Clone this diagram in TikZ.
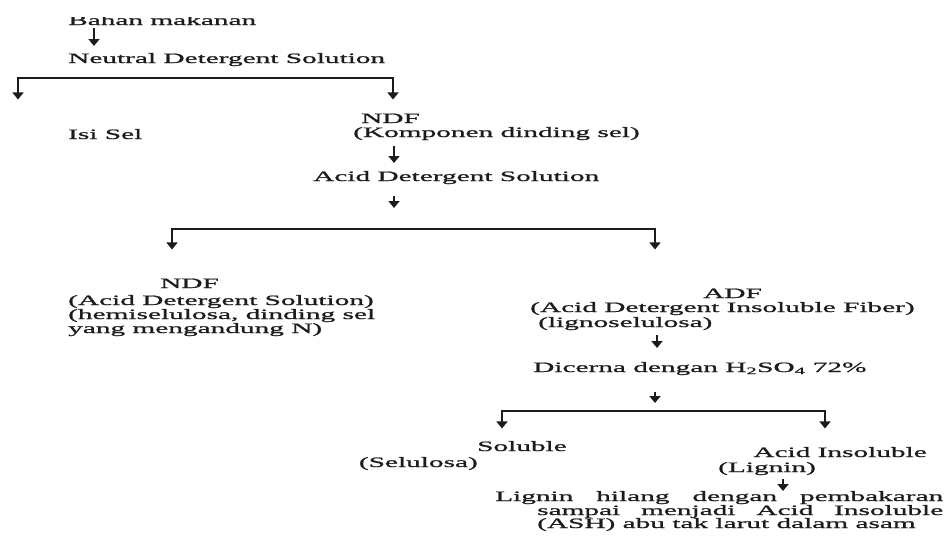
\documentclass[tikz,border=0pt]{standalone}
\usepackage{fontspec}
\setmainfont{Liberation Serif}[FakeStretch=2.05,FakeBold=1.2]
\usepackage{tikz}
\usetikzlibrary{arrows.meta,calc}
\definecolor{ink}{RGB}{28,28,28}
\tikzset{
		txt/.style = 	{inner sep=0pt, anchor=base west, text=ink, font=\fontsize{14.3}{14.5}\selectfont},
		txtR/.style = 	{txt, anchor=base east},
		arr/.style = 	{draw=ink, line width=1.7pt, -{Triangle[width=11pt,length=7pt]}},
		bar/.style = 	{draw=ink, line width=1.1pt}
}

\begin{document}
\begin{tikzpicture}[x=1pt,y=-1pt]
  \useasboundingbox (0,0) rectangle (950,538);
  \clip (0,17.5) rectangle (950,538);

  % Text lines
  \node [txt] (bahan) at (68,25) {Bahan makanan};
  \node [txt] (nds)   at (68,63) {Neutral Detergent Solution};
  \node [txt] (isi)   at (68,139) {Isi Sel};
  \node [txt] (ndfa)  at (361,123) {NDF};
  \node [txt] (ndfb)  at (353,137) {(Komponen dinding sel)};
  \node [txt] (ads)   at (313,181) {Acid Detergent Solution};

  \node [txt] (hema)  at (160,288) {NDF};
  \node [txt] (hemb)  at (68,305) {(Acid Detergent Solution)};
  \node [txt] (hemc)  at (68,319) {(hemiselulosa, dinding sel};
  \node [txt] (hemd)  at (68,333) {yang mengandung N)};

  \node [txt] (adfa)  at (703,298) {ADF};
  \node [txt] (adfb)  at (530,312) {(Acid Detergent Insoluble Fiber)};
  \node [txt] (adfc)  at (538,327) {(lignoselulosa)};
  \node [txt] (dic)   at (533,372) {Dicerna dengan H\textsubscript{2}SO\textsubscript{4} 72\%};

  \node [txt]  (sola) at (477,451) {Soluble};
  \node [txtR] (solb) at (478,467) {(Selulosa)};
  \node [txtR] (aia)  at (927,457) {Acid Insoluble};
  \node [txt]  (aib)  at (718,472) {(Lignin)};

  \node [txt] (asha)  at (495,501) {\makebox[448pt][s]{Lignin hilang dengan pembakaran}};
  \node [txt] (ashb)  at (537,515) {\makebox[406pt][s]{sampai menjadi Acid Insoluble}};
  \node [txt] (ashc)  at (537,528) {(ASH) abu tak larut dalam asam};

  % Single arrows
  \draw [arr] ($(bahan.base west)+(26,3)$) -- ($(nds.base west)+(26,-17)$);
  \draw [arr] ($(ndfb.base west)+(41,9)$) -- ($(ads.base west)+(81,-18)$);
  \draw [arr] ($(ads.base west)+(81,15)$) -- ++(0,12);
  \draw [arr] ($(adfc.base west)+(119,8)$) -- ($(dic.base west)+(124,-24)$);
  \draw [arr] ($(dic.base west)+(122,20)$) -- ++(0,11);
  \draw [arr] ($(aib.base west)+(65,7)$) -- ($(asha.base west)+(288,-10)$);

  % Split brackets
  \coordinate (splitA) at (18,78);
  \coordinate (splitB) at (393,78);
  \coordinate (splitC) at (172,229);
  \coordinate (splitD) at (655,229);
  \coordinate (splitE) at (502,411);
  \coordinate (splitF) at (825,411);
  \foreach \l/\r/\d in {splitA/splitB/22, splitC/splitD/21, splitE/splitF/18}
    {\draw [bar] (\l) -- (\r);
     \draw [arr] ($(\l)+(0,-0.55)$) -- ++(0,\d);
     \draw [arr] ($(\r)+(0,-0.55)$) -- ++(0,\d);}

\end{tikzpicture}
\end{document}
